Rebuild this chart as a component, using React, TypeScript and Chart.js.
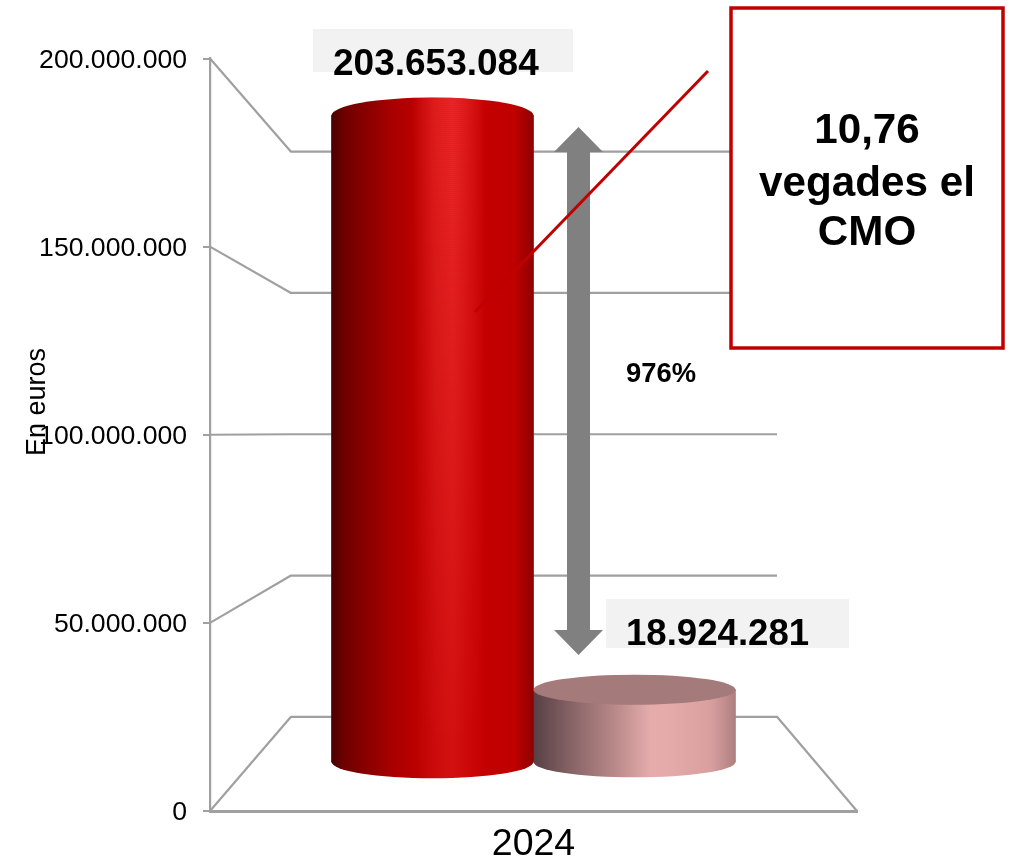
import React, { useEffect, useRef } from "react";
import { Chart, registerables } from "chart.js";

Chart.register(...registerables);

const categories = ["2024"];
const seriesNames = ["Import A", "Import B"];
const valuesA = [203653084];
const valuesB = [18924281];
const axisTitle = "En euros";
const ratioLines = ["10,76", "vegades el", "CMO"];
const percentLabel = "976%";

const FONT = '"Liberation Sans", Arial, sans-serif';
const LINE = "#a0a0a0";
const BAR_W = 202;
const fmt = (v: number) => String(Math.round(v)).replace(/\B(?=(\d{3})+(?!\d))/g, ".");

const redStops: [number, string][] = [
  [0, "#4a0000"], [0.06, "#6e0000"], [0.3, "#a80000"], [0.42, "#bc0000"], [0.52, "#cc0c0c"],
  [0.6, "#d21010"], [0.76, "#c40000"], [0.9, "#c00000"], [1, "#8f0000"],
];
const pinkStops: [number, string][] = [
  [0, "#574045"], [0.22, "#8f696b"], [0.42, "#bd8c8c"], [0.58, "#e6acac"], [0.68, "#e4a9a9"],
  [0.88, "#d99f9f"], [1, "#ae7f80"],
];
const capPink = "#a47a7a";
const topRadii = [18, 15];
const bottomRadii = [16.5, 15.5];

function gradFor(ctx: any, i: number) {
  const chart = ctx.chart;
  const stops = i === 0 ? redStops : pinkStops;
  const xs = chart.scales.x;
  if (!chart.chartArea || !xs) return stops[3][1];
  const c = xs.getPixelForValue(0);
  const x0 = c + (i - 1) * BAR_W;
  const g = chart.ctx.createLinearGradient(x0, 0, x0 + BAR_W, 0);
  stops.forEach(([p, col]) => g.addColorStop(p, col));
  return g;
}

const pseudo3d = {
  id: "pseudo3d",
  beforeDatasetsDraw(chart: any) {
    const { ctx, chartArea: a, scales } = chart;
    const front = scales.y;
    const wall = scales.wall;
    const backL = a.left + 81;
    const backR = a.right - 80;
    ctx.save();
    ctx.strokeStyle = LINE;
    ctx.lineWidth = 2.2;
    ctx.lineJoin = "round";
    front.ticks.forEach((t: any) => {
      const fy = front.getPixelForValue(t.value);
      const by = wall.getPixelForValue(t.value);
      ctx.beginPath();
      ctx.moveTo(a.left, fy);
      ctx.lineTo(backL, by);
      ctx.lineTo(backR, by);
      if (t.value === 0) ctx.lineTo(a.right, fy);
      ctx.stroke();
    });
    ctx.restore();
    chart.data.datasets.forEach((_: any, i: number) => {
      const el = chart.getDatasetMeta(i).data[0];
      ctx.save();
      ctx.fillStyle = el.options.backgroundColor;
      ctx.beginPath();
      ctx.ellipse(el.x, el.base, el.width / 2, bottomRadii[i], 0, 0, Math.PI * 2);
      ctx.fill();
      ctx.restore();
    });
  },
  afterDatasetsDraw(chart: any) {
    const { ctx } = chart;
    chart.data.datasets.forEach((_: any, i: number) => {
      const el = chart.getDatasetMeta(i).data[0];
      ctx.save();
      ctx.fillStyle = i === 0 ? el.options.backgroundColor : capPink;
      ctx.beginPath();
      ctx.ellipse(el.x, el.y, el.width / 2, topRadii[i], 0, 0, Math.PI * 2);
      ctx.fill();
      ctx.restore();
    });

    // highlight on the tall cylinder, stronger towards its top
    const tall = chart.getDatasetMeta(0).data[0];
    const x0 = tall.x - tall.width / 2;
    const sheen = ctx.createLinearGradient(x0, 0, x0 + tall.width, 0);
    sheen.addColorStop(0.4, "rgba(240,44,44,0)");
    sheen.addColorStop(0.5, "rgba(240,44,44,0.6)");
    sheen.addColorStop(0.6, "rgba(240,44,44,1)");
    sheen.addColorStop(0.76, "rgba(240,44,44,0)");
    ctx.save();
    ctx.fillStyle = sheen;
    const top = tall.y - topRadii[0];
    const bottom = tall.base;
    ctx.beginPath();
    ctx.ellipse(tall.x, tall.y, tall.width / 2, topRadii[0], 0, Math.PI, 0);
    ctx.lineTo(tall.x + tall.width / 2, bottom);
    ctx.lineTo(tall.x - tall.width / 2, bottom);
    ctx.closePath();
    ctx.clip();
    for (let y = top; y < bottom; y += 2) {
      ctx.globalAlpha = Math.max(0, 0.8 * (1 - (y - top) / (bottom - top)));
      ctx.fillRect(x0, y, tall.width, 2);
    }
    ctx.restore();

    ctx.save();
    // double arrow
    ctx.fillStyle = "#808080";
    ctx.beginPath();
    const ax = 578.5;
    [[ax, 127], [603, 152], [590, 152], [590, 630], [603, 630], [ax, 655], [554, 630], [567, 630], [567, 152], [554, 152]].forEach(
      ([x, y], k) => (k ? ctx.lineTo(x, y) : ctx.moveTo(x, y))
    );
    ctx.closePath();
    ctx.fill();

    // value labels
    ctx.fillStyle = "#f2f2f2";
    ctx.fillRect(313, 29, 260, 43);
    ctx.fillRect(606, 599, 243, 49);
    ctx.fillStyle = "#000";
    ctx.textBaseline = "alphabetic";
    ctx.textAlign = "left";
    ctx.font = `bold 37px ${FONT}`;
    ctx.fillText(fmt(valuesA[0]), 333, 75);
    ctx.font = `bold 36.6px ${FONT}`;
    ctx.fillText(fmt(valuesB[0]), 626, 645);

    ctx.textAlign = "center";
    ctx.font = `bold 27.4px ${FONT}`;
    ctx.fillText(percentLabel, 661, 382);

    // axis title
    ctx.save();
    ctx.translate(45, 402);
    ctx.rotate(-Math.PI / 2);
    ctx.font = `27px ${FONT}`;
    ctx.fillText(axisTitle, 0, 0);
    ctx.restore();

    // callout box
    ctx.fillStyle = "#fff";
    ctx.strokeStyle = "#c00000";
    ctx.lineWidth = 3.5;
    ctx.fillRect(731, 8, 272, 340);
    ctx.strokeRect(731, 8, 272, 340);
    ctx.fillStyle = "#000";
    ctx.font = `bold 42.2px ${FONT}`;
    const ys = [143, 196, 245];
    ratioLines.forEach((s, k) => ctx.fillText(s, 867, ys[k]));

    // callout line
    ctx.strokeStyle = "#c00000";
    ctx.lineWidth = 3;
    ctx.beginPath();
    ctx.moveTo(475, 312);
    ctx.lineTo(708, 71);
    ctx.stroke();
    ctx.restore();
  },
};

export default function App() {
  const ref = useRef<HTMLCanvasElement>(null);
  useEffect(() => {
    document.body.style.margin = "0";
    document.body.style.overflow = "hidden";
    const chart = new Chart(ref.current!, {
      type: "bar",
      data: {
        labels: categories,
        datasets: [
          { label: seriesNames[0], data: valuesA, yAxisID: "bars", backgroundColor: (c: any) => gradFor(c, 0) } as any,
          { label: seriesNames[1], data: valuesB, yAxisID: "bars", backgroundColor: (c: any) => gradFor(c, 1) } as any,
        ],
      },
      options: {
        animation: false,
        responsive: false,
        devicePixelRatio: 1,
        layout: { padding: { top: 58.5, right: 158, left: 0, bottom: 0 } },
        plugins: { legend: { display: false }, tooltip: { enabled: false } },
        datasets: { bar: { barThickness: BAR_W, base: -4290000, borderWidth: 0 } } as any,
        scales: {
          x: {
            grid: { display: false, drawTicks: false },
            border: { color: LINE, width: 3 },
            ticks: { color: "#000", font: { family: FONT, size: 37.5 }, padding: 11.5, maxRotation: 0 },
            afterFit: (s: any) => { s.height = 47; },
          },
          y: {
            position: "left",
            min: 0,
            max: 200000000,
            grid: { drawOnChartArea: false, color: LINE, lineWidth: 2, tickLength: 7 },
            border: { color: LINE, width: 2.2 },
            ticks: {
              stepSize: 50000000,
              color: "#000",
              padding: 16,
              font: { family: FONT, size: 26.6, lineHeight: 0.15 },
              callback: (v: any) => ["", fmt(Number(v))],
            },
            afterFit: (s: any) => { s.width = 210; },
          },
          bars: { axis: "y", position: "left", display: false, min: -20100000, max: 222000000 },
          wall: { axis: "y", position: "left", display: false, min: -33330000, max: 232980000 },
        },
      } as any,
      plugins: [pseudo3d],
    });
    return () => chart.destroy();
  }, []);
  return <canvas ref={ref} width={1015} height={858} style={{ position: "absolute", left: 0, top: 0, display: "block" }} />;
}
